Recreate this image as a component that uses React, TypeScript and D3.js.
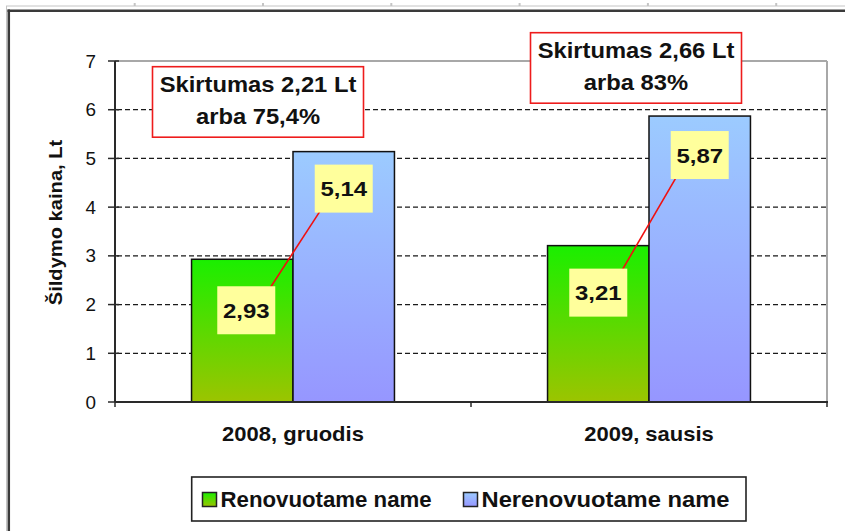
import React from "react";
import * as d3 from "d3";

const categories = ["2008, gruodis", "2009, sausis"];
const seriesNames = ["Renovuotame name", "Nerenovuotame name"];
const renovuotame = [2.93, 3.21];
const nerenovuotame = [5.14, 5.87];
const diffLine1 = ["Skirtumas 2,21 Lt", "Skirtumas 2,66 Lt"];
const diffLine2 = ["arba 75,4%", "arba 83%"];
const yTicks = [0, 1, 2, 3, 4, 5, 6, 7];
const yTitle = "Šildymo kaina, Lt";

const W = 845;
const H = 531;
const PL = 115, PR = 827, PT = 61, PB = 402;
const FONT = '"Liberation Sans", Arial, Helvetica, sans-serif';

const fmt = (v: number) => d3.format(".2f")(v).replace(".", ",");

function T(props: any) {
  const { x, y, sx = 1, rotate = 0, anchor = "middle", size, weight = "normal", fill = "#000", children } = props;
  return (
    <text
      transform={`translate(${x},${y}) rotate(${rotate}) scale(${sx},1)`}
      textAnchor={anchor}
      fontSize={size}
      fontWeight={weight}
      fill={fill}
    >
      {children}
    </text>
  );
}

export default function App() {
  const y = d3.scaleLinear().domain([0, 7]).range([PB, PT]);
  const x0 = d3.scaleBand<string>().domain(categories).range([PL, PR]).paddingInner(0.43).paddingOuter(0.215);
  const x1 = d3.scaleBand<string>().domain(seriesNames).range([0, x0.bandwidth()]).padding(0);
  const series = [renovuotame, nerenovuotame];
  const fills = ["url(#gGreen)", "url(#gBlue)"];
  const rulerTicks = d3.range(134.7, 800, 128.3);
  const lbW = 58, lbH = 48;

  return (
    <svg width={W} height={H} style={{ position: "absolute", left: 0, top: 0, background: "#fff" }} fontFamily={FONT}>
      <defs>
        <linearGradient id="gGreen" x1="0" y1="0" x2="0" y2="1">
          <stop offset="0" stopColor="#1aef00" />
          <stop offset="1" stopColor="#9cc400" />
        </linearGradient>
        <linearGradient id="gBlue" x1="0" y1="0" x2="0" y2="1">
          <stop offset="0" stopColor="#9ccbff" />
          <stop offset="1" stopColor="#9696ff" />
        </linearGradient>
      </defs>

      {/* outer frame */}
      <line x1={6} y1={6} x2={W} y2={6} stroke="#c4c4c4" strokeWidth={1} />
      <line x1={6.5} y1={6} x2={6.5} y2={H} stroke="#c4c4c4" strokeWidth={1} />
      {rulerTicks.map((t, i) => (
        <line key={i} x1={t} y1={3} x2={t} y2={6} stroke="#c4c4c4" strokeWidth={2} />
      ))}
      <line x1={7.5} y1={10.8} x2={W} y2={10.8} stroke="#3a3a3a" strokeWidth={2.5} />
      <line x1={8.8} y1={9.5} x2={8.8} y2={H} stroke="#3a3a3a" strokeWidth={2.5} />

      {/* gridlines */}
      {yTicks.filter((t) => t > 0 && t < 7).map((t) => (
        <line key={t} x1={PL + 2} y1={y(t)} x2={PR} y2={y(t)} stroke="#1a1a1a" strokeWidth={1.3} strokeDasharray="5,3" />
      ))}

      {/* bars */}
      {categories.map((c, ci) =>
        seriesNames.map((s, si) => {
          const v = series[si][ci];
          const bx = (x0(c) as number) + (x1(s) as number);
          return (
            <rect key={c + s} x={bx} y={y(v)} width={x1.bandwidth()} height={y(0) - y(v)} fill={fills[si]} stroke="#111" strokeWidth={1.5} />
          );
        })
      )}

      {/* plot border top/right */}
      <line x1={PL} y1={PT} x2={PR} y2={PT} stroke="#a8a8a8" strokeWidth={2} />
      <line x1={PR} y1={PT} x2={PR} y2={PB} stroke="#a8a8a8" strokeWidth={2} />
      {/* axes */}
      <line x1={PL} y1={PT} x2={PL} y2={PB} stroke="#2a2a2a" strokeWidth={2} />
      <line x1={PL} y1={PB} x2={PR + 1} y2={PB} stroke="#2a2a2a" strokeWidth={2} />
      {yTicks.map((t) => (
        <g key={t}>
          <line x1={108} y1={y(t)} x2={119} y2={y(t)} stroke="#2a2a2a" strokeWidth={1.5} />
          <T x={96} y={y(t) + 6.5} anchor="end" size={18} sx={1.05} fill="#111">{String(t)}</T>
        </g>
      ))}
      {[PL, PL + x0.step(), PR].map((xx, i) => (
        <line key={i} x1={xx} y1={PB} x2={xx} y2={PB + 5} stroke="#2a2a2a" strokeWidth={1.5} />
      ))}

      {/* y title */}
      <T x={62} y={222.5} rotate={-90} size={19} weight="bold" sx={1.06} fill="#111">{yTitle}</T>

      {/* category labels */}
      {categories.map((c) => (
        <T key={c} x={(x0(c) as number) + x0.bandwidth() / 2} y={441} size={20} weight="bold" sx={1.1} fill="#111">{c}</T>
      ))}

      {/* difference annotations */}
      {categories.map((c, ci) => {
        const cx = (x0(c) as number) + x0.bandwidth() / 2 + (ci === 0 ? -35 : -13);
        const top = ci === 0 ? 66.7 : 32.7;
        return (
          <g key={c}>
            <rect x={cx - 105.5} y={top} width={211} height={70.5} fill="#fff" stroke="#ee1c1c" strokeWidth={1.6} />
            <T x={cx} y={top + 25} size={22} weight="bold" sx={1.08} fill="#111">{diffLine1[ci]}</T>
            <T x={cx} y={top + 56.8} size={22} weight="bold" sx={1.08} fill="#111">{diffLine2[ci]}</T>
          </g>
        );
      })}

      {/* value labels with leader lines */}
      {categories.map((c, ci) => {
        const gx = (x0(c) as number) + (x1(seriesNames[0]) as number) + x1.bandwidth() / 2 + (ci === 0 ? 4 : 0);
        const bxc = (x0(c) as number) + (x1(seriesNames[1]) as number) + x1.bandwidth() / 2;
        const gcy = y(renovuotame[ci]) + (ci === 0 ? 51 : 47);
        const bcy = y(nerenovuotame[ci]) + (ci === 0 ? 37 : 39);
        return (
          <g key={c}>
            <line x1={gx + 23} y1={gcy - lbH / 2 + 3} x2={bxc - 24} y2={bcy + lbH / 2 - 1} stroke="#f01010" strokeWidth={1.6} />
            <rect x={gx - lbW / 2} y={gcy - lbH / 2} width={lbW} height={lbH} fill="#ffff9c" />
            <rect x={bxc - lbW / 2} y={bcy - lbH / 2} width={lbW} height={lbH} fill="#ffff9c" />
            <T x={gx} y={gcy + 7.5} size={21} weight="bold" sx={1.14} fill="#111">{fmt(renovuotame[ci])}</T>
            <T x={bxc} y={bcy + 7.5} size={21} weight="bold" sx={1.14} fill="#111">{fmt(nerenovuotame[ci])}</T>
          </g>
        );
      })}

      {/* legend */}
      <rect x={191.7} y={477} width={554.3} height={44} fill="#fff" stroke="#222" strokeWidth={1.6} />
      {seriesNames.map((s, i) => {
        const mx = i === 0 ? 202.5 : 463.5;
        return (
          <g key={s}>
            <rect x={mx} y={492.5} width={14} height={14} fill={fills[i]} stroke="#222" strokeWidth={1.5} />
            <T x={mx + 18} y={507} anchor="start" size={22} weight="bold" sx={i === 0 ? 1.01 : 1.08} fill="#111">{s}</T>
          </g>
        );
      })}
    </svg>
  );
}
